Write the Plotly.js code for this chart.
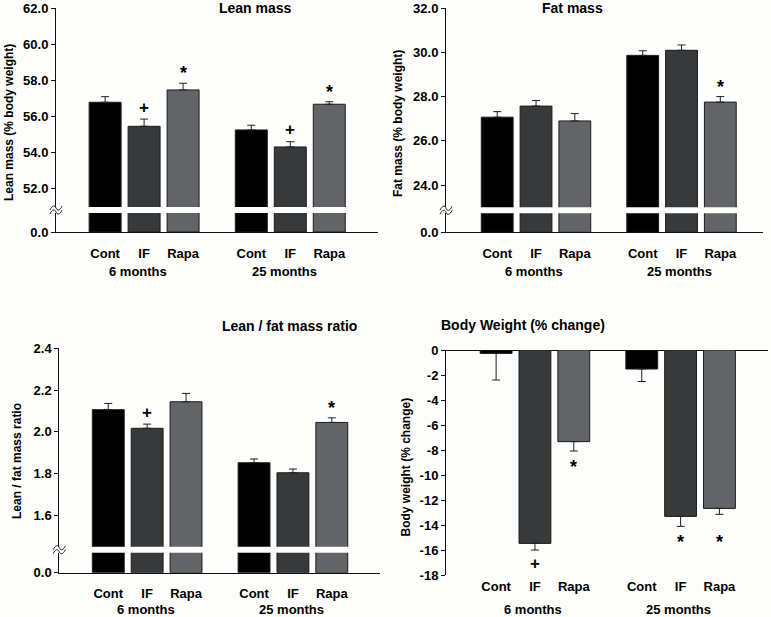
<!DOCTYPE html>
<html>
<head>
<meta charset="utf-8">
<script src="https://cdn.plot.ly/plotly-3.0.1.min.js"></script>
<style>html,body{margin:0;padding:0;background:#fdfdfb;}#chart{width:771px;height:617px;}</style>
</head>
<body>
<div id="chart"></div>
<script>
// ---------- data ----------
const treatments = ['Cont', 'IF', 'Rapa', 'Cont', 'IF', 'Rapa'];
const groups = ['6 months', '25 months'];

const leanMass = [56.79, 55.46, 57.47, 55.26, 54.32, 56.68];
const leanErr  = [0.31, 0.40, 0.37, 0.26, 0.29, 0.14];
const leanSig  = ['', '+', '*', '', '+', '*'];

const fatMass = [27.07, 27.57, 26.90, 29.86, 30.09, 27.75];
const fatErr  = [0.25, 0.25, 0.33, 0.21, 0.24, 0.25];
const fatSig  = ['', '', '', '', '', '*'];

const leanFatRatio = [2.106, 2.017, 2.144, 1.852, 1.804, 2.045];
const ratioErr     = [0.030, 0.020, 0.040, 0.018, 0.018, 0.022];
const ratioSig     = ['', '+', '', '', '', '*'];

const bodyWeight = [-0.27, -15.47, -7.33, -1.52, -13.31, -12.67];
const bwErr      = [2.13, 0.53, 0.75, 1.00, 0.80, 0.48];
const bwSig      = ['', '+', '*', '', '*', '*'];

// ---------- style ----------
const W = 771, H = 617;
const FONT = 'Liberation Sans, Arial, sans-serif';
const GROUP_GAP = 3.75;
const BAR_W = 0.82;
const barColors = ['#000000', '#38393b', '#636467', '#000000', '#38393b', '#636467'];
const xpos = treatments.map((t, i) => Math.floor(i / 3) * GROUP_GAP + (i % 3));
const groupCenters = groups.map((g, k) => k * GROUP_GAP + 1);

const px2x = p => p / W;
const px2y = p => 1 - p / H;

const data = [];
const layout = {
  width: W, height: H,
  margin: {l: 0, r: 0, t: 0, b: 0},
  paper_bgcolor: '#fdfdfb', plot_bgcolor: 'rgba(0,0,0,0)',
  showlegend: false, bargap: 0,
  font: {family: FONT, size: 12, color: '#000'},
  annotations: [], shapes: []
};

const tickFont = {family: FONT, size: 13, color: '#000', weight: 'bold'};

function xAxisDef(dom, range, anchor, standoff, showline) {
  return {
    domain: dom, range: range, anchor: anchor,
    tickmode: 'array', tickvals: xpos, ticktext: treatments.map(t => '<b>' + t + '</b>'),
    ticks: '', showgrid: false, zeroline: false,
    showline: showline, linecolor: '#111', linewidth: 1,
    tickfont: tickFont, ticklabelstandoff: standoff, fixedrange: true
  };
}
function yAxisDef(dom, range, anchor, tickvals, fmt) {
  return {
    domain: dom, range: range, anchor: anchor,
    tickmode: 'array', tickvals: tickvals,
    ticktext: tickvals.map(v => '<b>' + (fmt ? v.toFixed(fmt) : String(v)) + '</b>'),
    ticks: 'outside', ticklen: 4, tickwidth: 1, tickcolor: '#111',
    showgrid: false, zeroline: false, showline: true, linecolor: '#111', linewidth: 1,
    tickfont: tickFont, fixedrange: true
  };
}

function barTrace(xa, ya, vals, errPlus, errMinus) {
  const t = {
    type: 'bar', x: xpos, y: vals, xaxis: xa, yaxis: ya, width: BAR_W,
    marker: {color: barColors, line: {color: '#1c1c1c', width: 1}},
    hoverinfo: 'skip', cliponaxis: true
  };
  if (errPlus) {
    t.error_y = {type: 'data', symmetric: false, array: errPlus, arrayminus: errMinus,
                 color: '#222', thickness: 1, width: 4};
  }
  return t;
}

function sigAnnotations(xa, ya, vals, errs, sigs, dir, shift) {
  sigs.forEach((s, i) => {
    if (!s) return;
    layout.annotations.push({
      xref: xa, yref: ya, x: xpos[i], y: vals[i] + dir * errs[i],
      text: '<b>' + s + '</b>', showarrow: false,
      font: {family: FONT, size: s === '*' ? 18 : 17, color: '#000'},
      yanchor: 'middle', yshift: dir * (s === '*' ? shift - 2 : shift)
    });
  });
}

function panelText(p) {
  const midX = px2x((p.xPx[0] + p.xPx[1]) / 2);
  layout.annotations.push({xref: 'paper', yref: 'paper', x: midX, y: px2y(p.titleY),
    text: '<b>' + p.title + '</b>', showarrow: false, yanchor: 'middle',
    font: {family: FONT, size: 14, color: '#000'}});
  layout.annotations.push({xref: 'paper', yref: 'paper', x: px2x(p.yTitleX), y: px2y(p.yTitleY),
    text: '<b>' + p.yTitle + '</b>', showarrow: false, textangle: -90,
    xanchor: 'center', yanchor: 'middle',
    font: {family: FONT, size: 12, color: '#000'}});
  groups.forEach((g, k) => {
    layout.annotations.push({xref: p.xa, yref: 'paper', x: groupCenters[k], y: px2y(p.groupY),
      text: '<b>' + g + '</b>', showarrow: false, yanchor: 'middle', xshift: p.groupShift || 0,
      font: {family: FONT, size: 13, color: '#000'}});
  });
}

function squiggles(axisXpx, yTopPx, yBotPx) {
  [yTopPx + 1, yBotPx - 1].forEach(cy => {
    const x0 = axisXpx - 6, x1 = axisXpx + 6;
    const path = 'M ' + px2x(x0) + ' ' + px2y(cy + 2) +
      ' C ' + px2x(x0 + 2) + ' ' + px2y(cy - 3) + ', ' + px2x(axisXpx - 1) + ' ' + px2y(cy - 3) + ', ' +
      px2x(axisXpx) + ' ' + px2y(cy) +
      ' C ' + px2x(axisXpx + 1) + ' ' + px2y(cy + 3) + ', ' + px2x(x1 - 2) + ' ' + px2y(cy + 3) + ', ' +
      px2x(x1) + ' ' + px2y(cy - 2);
    layout.shapes.push({type: 'path', xref: 'paper', yref: 'paper', path: path,
      line: {color: '#222', width: 1}});
  });
}

// broken-axis panel: lower stub (0..) and upper section
function brokenPanel(p) {
  const xdom = [px2x(p.xPx[0]), px2x(p.xPx[1])];
  const upDom = [px2y(p.upPx[1]), px2y(p.upPx[0])];
  const loDom = [px2y(p.loPx[1]), px2y(p.loPx[0])];
  layout[p.xKey] = xAxisDef(xdom, p.xRange, p.yLo, p.standoff, true);
  layout[p.yLoKey] = yAxisDef(loDom, [0, 1], p.xa, [0], 1);
  layout[p.yUpKey] = yAxisDef(upDom, p.upRange, p.xa, p.upTicks, p.fmt);
  const zeros = p.vals.map(() => 0);
  data.push(barTrace(p.xa, p.yLo, p.vals));
  data.push(barTrace(p.xa, p.yUp, p.vals, p.errs, zeros));
  sigAnnotations(p.xa, p.yUp, p.vals, p.errs, p.sigs, 1, 12);
  panelText(p);
  squiggles(p.xPx[0], p.upPx[1], p.loPx[0]);
}

brokenPanel({
  xa: 'x', xKey: 'xaxis', yLo: 'y', yLoKey: 'yaxis', yUp: 'y2', yUpKey: 'yaxis2',
  xPx: [56, 378], upPx: [8, 207], loPx: [213, 232], xRange: [-1.26, 7.0],
  upRange: [51, 62], upTicks: [52, 54, 56, 58, 60, 62], fmt: 1,
  vals: leanMass, errs: leanErr, sigs: leanSig, standoff: 9,
  title: 'Lean mass', titleY: 8, yTitle: 'Lean mass (% body weight)', yTitleX: 9, yTitleY: 123,
  groupY: 271.5, groupShift: -6
});
brokenPanel({
  xa: 'x2', xKey: 'xaxis2', yLo: 'y3', yLoKey: 'yaxis3', yUp: 'y4', yUpKey: 'yaxis4',
  xPx: [446, 763], upPx: [8, 207.3], loPx: [213.3, 232.3], xRange: [-1.32, 6.85],
  upRange: [23, 32], upTicks: [24, 26, 28, 30, 32], fmt: 1,
  vals: fatMass, errs: fatErr, sigs: fatSig, standoff: 9,
  title: 'Fat mass', titleY: 8, yTitle: 'Fat mass (% body weight)', yTitleX: 398, yTitleY: 124,
  groupY: 271.5, groupShift: -2
});
brokenPanel({
  xa: 'x3', xKey: 'xaxis3', yLo: 'y5', yLoKey: 'yaxis5', yUp: 'y6', yUpKey: 'yaxis6',
  xPx: [59.3, 380], upPx: [348.3, 546.7], loPx: [552.7, 572.7], xRange: [-1.26, 6.99],
  upRange: [1.45, 2.4], upTicks: [1.6, 1.8, 2.0, 2.2, 2.4], fmt: 1,
  vals: leanFatRatio, errs: ratioErr, sigs: ratioSig, standoff: 9,
  title: 'Lean / fat mass ratio', titleY: 326, yTitle: 'Lean / fat mass ratio', yTitleX: 17, yTitleY: 461,
  groupY: 609, groupShift: -1
});

// body weight panel (single negative axis)
(function () {
  const p = {xa: 'x4', xPx: [446, 768], yPx: [350, 575],
    title: 'Body Weight (% change)', titleY: 324.5, yTitle: 'Body weight (% change)',
    yTitleX: 405.5, yTitleY: 467, groupY: 609, groupShift: -2};
  layout.xaxis4 = xAxisDef([px2x(p.xPx[0]), px2x(p.xPx[1])], [-1.29, 7.0], 'y7', 2, false);
  const yt = [];
  for (let v = 0; v >= -18; v -= 2) yt.push(v);
  layout.yaxis7 = yAxisDef([px2y(p.yPx[1]), px2y(p.yPx[0])], [-18, 0], 'x4', yt, 0);
  layout.yaxis7.ticktext = yt.map(v => '<b>' + v + '</b>');
  layout.yaxis7.zeroline = true; layout.yaxis7.zerolinecolor = '#111'; layout.yaxis7.zerolinewidth = 1;
  const zeros = bodyWeight.map(() => 0);
  data.push(barTrace('x4', 'y7', bodyWeight, zeros, bwErr));
  // significance markers below the error bars; markers in one group share a level when close
  bwSig.forEach((s, i) => {
    if (!s) return;
    let yv = bodyWeight[i] - bwErr[i];
    bwSig.forEach((s2, j) => {
      if (s2 && j !== i && Math.floor(j / 3) === Math.floor(i / 3)) {
        const yj = bodyWeight[j] - bwErr[j];
        if (Math.abs(yj - yv) < 1.5) yv = Math.min(yv, yj);
      }
    });
    layout.annotations.push({xref: 'x4', yref: 'y7', x: xpos[i], y: yv,
      text: '<b>' + s + '</b>', showarrow: false,
      font: {family: FONT, size: s === '*' ? 18 : 17, color: '#000'},
      yanchor: 'middle', yshift: s === '*' ? -16 : -13});
  });
  panelText(p);
})();

Plotly.newPlot('chart', data, layout, {staticPlot: true, displayModeBar: false});
</script>
</body>
</html>
